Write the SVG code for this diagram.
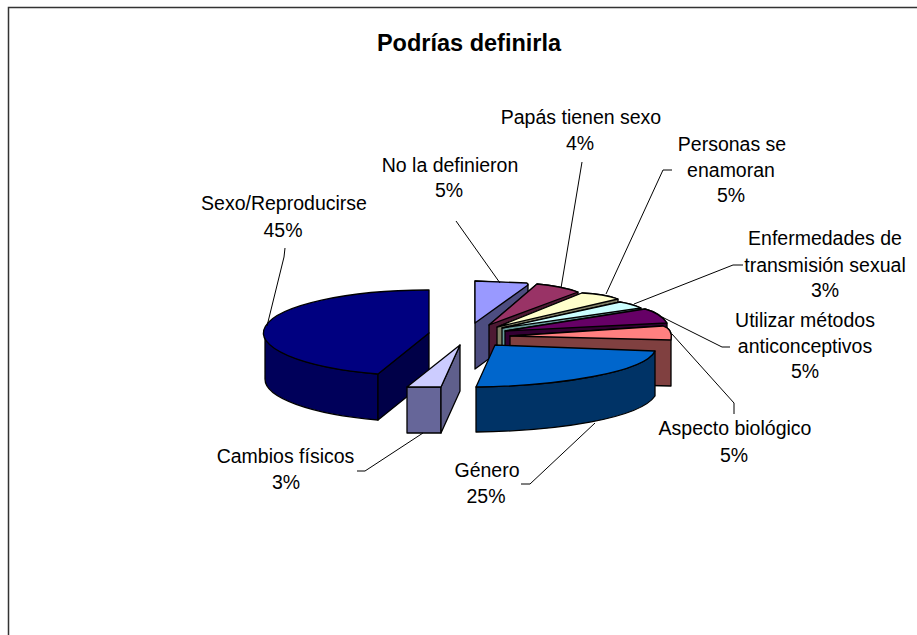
<svg xmlns="http://www.w3.org/2000/svg" width="917" height="635" viewBox="0 0 917 635">
<style>
.lbl{font-family:"Liberation Sans",Arial,sans-serif;font-size:19.5px;text-anchor:middle;fill:#000}
.title{font-weight:bold;font-size:23.5px}
.f{stroke:#000;stroke-width:1.3;stroke-linejoin:round}
.lead{fill:none;stroke:#000;stroke-width:1}
</style>
<rect x="0" y="0" width="917" height="635" fill="#fff"/>
<path d="M8.5,640 L8.5,7.5 L920,7.5" fill="none" stroke="#333" stroke-width="1.5"/>
<text class="lbl title" x="469" y="51">Podrías definirla</text>

<g id="slice-no-la-definieron">
<path class="f" d="M475,281 L528,284 L528,330 L475,369 Z" fill="#4d4d80"/>
<path class="f" d="M475,281 L527,283 L528,285 L475,323 Z" fill="#9999ff"/>
<text class="lbl" x="450" y="172">No la definieron</text>
<text class="lbl" x="449" y="197">5%</text>
</g>

<g id="slice-papas">
<path class="f" d="M489,325 L537,284 Q560,286 578,292 L578,338 L489,371 Z" fill="#4d1933"/>
<path class="f" d="M489,325 L537,284 Q560,286 578,292 Z" fill="#993366"/>
<text class="lbl" x="581" y="124">Papás tienen sexo</text>
<text class="lbl" x="580" y="150">4%</text>
</g>

<g id="slice-personas">
<path class="f" d="M497,327 L582,293 Q604,294 618,299 L618,345 L497,373 Z" fill="#7f7f66"/>
<path class="f" d="M497,327 L582,293 Q604,294 618,299 Z" fill="#ffffcc"/>
<text class="lbl" x="732" y="151">Personas se</text>
<text class="lbl" x="731" y="177">enamoran</text>
<text class="lbl" x="731" y="202">5%</text>
</g>

<g id="slice-enfermedades">
<path class="f" d="M502,328 L620,302 Q632,304 641,308 L641,354 L502,374 Z" fill="#669999"/>
<path class="f" d="M502,328 L620,302 Q632,304 641,308 Z" fill="#ccffff"/>
<text class="lbl" x="825" y="245">Enfermedades de</text>
<text class="lbl" x="825" y="272">transmisión sexual</text>
<text class="lbl" x="825" y="297">3%</text>
</g>

<g id="slice-utilizar">
<path class="f" d="M505,331 L645,309 Q660,313 667,323 L667,369 L505,377 Z" fill="#330033"/>
<path class="f" d="M505,331 L645,309 Q660,313 667,323 Z" fill="#660066"/>
<text class="lbl" x="805" y="327">Utilizar métodos</text>
<text class="lbl" x="805" y="353">anticonceptivos</text>
<text class="lbl" x="805" y="378">5%</text>
</g>

<g id="slice-aspecto">
<path class="f" d="M510,336 L663,326 Q673,329 671,340 L671,386 L510,382 Z" fill="#804040"/>
<path class="f" d="M510,336 L663,326 Q673,329 671,340 Z" fill="#ff8080"/>
<text class="lbl" x="735" y="435">Aspecto biológico</text>
<text class="lbl" x="734" y="462">5%</text>
</g>

<g id="slice-genero">
<path class="f" d="M476,387 C560,386 645,372 655,351 L655,396 C640,418 560,431 476,432 Z" fill="#003366"/>
<path class="f" d="M495,345 L655,351 C645,372 560,386 476,387 Z" fill="#0066cc"/>
<text class="lbl" x="487" y="477">Género</text>
<text class="lbl" x="486" y="503">25%</text>
</g>

<g id="slice-sexo">
<path class="f" d="M265,333 A164,43 0 0 0 378,374 L378,420 A164,43 0 0 1 265,379 Z" fill="#00005a"/>
<path class="f" d="M378,374 L429,333 L429,379 L378,420 Z" fill="#000048"/>
<path class="f" d="M429,333 L429,290 A164,43 0 0 0 378,374 Z" fill="#000080"/>
<text class="lbl" x="284" y="210">Sexo/Reproducirse</text>
<text class="lbl" x="283" y="237">45%</text>
</g>

<g id="slice-cambios">
<path class="f" d="M407,387 L441,387 L441,433 L407,433 Z" fill="#666699"/>
<path class="f" d="M441,387 L460,345 L460,391 L441,433 Z" fill="#5f5f8c"/>
<path class="f" d="M460,345 L407,387 L441,387 Z" fill="#ccccff"/>
<text class="lbl" x="285.5" y="463">Cambios físicos</text>
<text class="lbl" x="286" y="489">3%</text>
</g>

<g id="connectors">
<path class="lead" d="M456,221 L500,283"/>
<path class="lead" d="M582,162 L561,288"/>
<path class="lead" d="M672,170 L663,170 L606,294"/>
<path class="lead" d="M743,265 L733,265 L634,304"/>
<path class="lead" d="M730,347 L722,347 L662,317"/>
<path class="lead" d="M734,414 L734,403 L672,334"/>
<path class="lead" d="M285,248 L284,257 L267,326"/>
<path class="lead" d="M357,471 L365,471 L423,433"/>
<path class="lead" d="M521,484 L530,484 L595,423"/>
</g>
</svg>
